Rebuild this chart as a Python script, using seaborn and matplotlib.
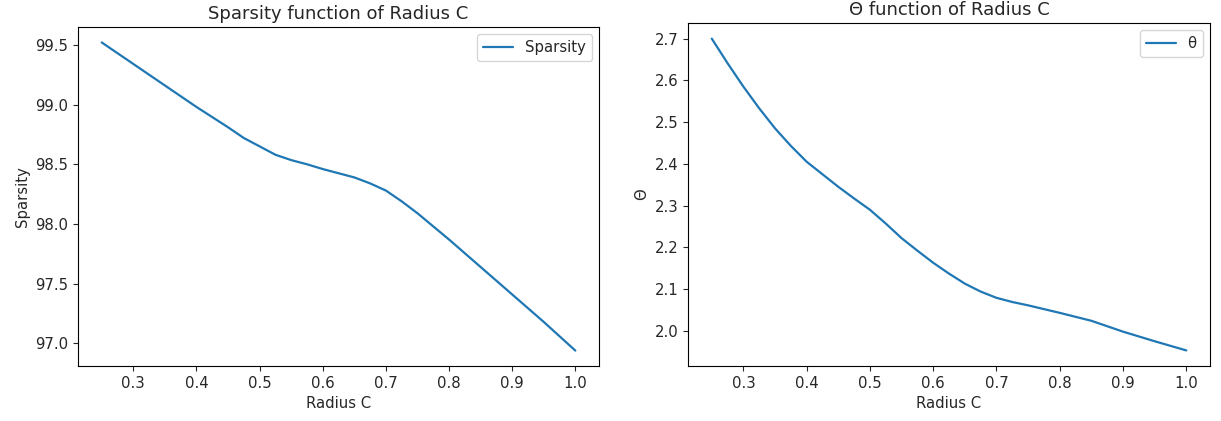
import matplotlib
matplotlib.use("Agg")
import matplotlib.pyplot as plt
import pandas as pd
import seaborn as sns

# values
radius = [0.25, 0.275, 0.30, 0.325, 0.35, 0.375, 0.40, 0.45, 0.475, 0.50, 0.525,
          0.55, 0.575, 0.60, 0.625, 0.65, 0.675, 0.70, 0.725, 0.75, 0.775,
          0.80, 0.85, 0.90, 0.95, 1.00]
sparsity = [99.52, 99.43, 99.34, 99.25, 99.16, 99.07, 98.98, 98.81, 98.72, 98.65, 98.58,
            98.535, 98.50, 98.46, 98.425, 98.39, 98.34, 98.28, 98.19, 98.09, 97.98,
            97.87, 97.64, 97.41, 97.18, 96.94]
theta = [2.70, 2.641, 2.585, 2.533, 2.485, 2.443, 2.405, 2.345, 2.317, 2.29, 2.257,
         2.222, 2.192, 2.163, 2.137, 2.113, 2.094, 2.079, 2.069, 2.061, 2.052,
         2.043, 2.024, 1.998, 1.975, 1.953]

sns.set_style("ticks")
plt.rcParams["font.family"] = ["DejaVu Sans"]
plt.rcParams["font.size"] = 10.7
plt.rcParams["axes.titlesize"] = 13

df = pd.DataFrame({"radius": radius, "sparsity": sparsity, "theta": theta})

fig = plt.figure(figsize=(12.21, 4.21), dpi=100)
ax1 = fig.add_axes([0.0639, 0.1306, 0.4267, 0.8052])
ax2 = fig.add_axes([0.5635, 0.1306, 0.4275, 0.8147])

sns.lineplot(data=df, x="radius", y="sparsity", ax=ax1, color="#1f77b4",
             label="Sparsity", linewidth=1.6)
ax1.set_title("Sparsity function of Radius C")
ax1.set_xlabel("Radius C")
ax1.set_ylabel("Sparsity")
ax1.set_xticks([0.3, 0.4, 0.5, 0.6, 0.7, 0.8, 0.9, 1.0])
ax1.legend(loc="upper right", fontsize=10.7)

sns.lineplot(data=df, x="radius", y="theta", ax=ax2, color="#1f77b4",
             label="θ", linewidth=1.6)
ax2.set_title("Θ function of Radius C")
ax2.set_xlabel("Radius C")
ax2.set_ylabel("Θ")
ax2.set_xticks([0.3, 0.4, 0.5, 0.6, 0.7, 0.8, 0.9, 1.0])
ax2.legend(loc="upper right", fontsize=10.7)

for ax in (ax1, ax2):
    ax.tick_params(labelsize=10.7)
    for s in ax.spines.values():
        s.set_visible(True)
        s.set_linewidth(0.8)
        s.set_color("black")

fig.savefig("out.png", dpi=100)
plt.close(fig)
